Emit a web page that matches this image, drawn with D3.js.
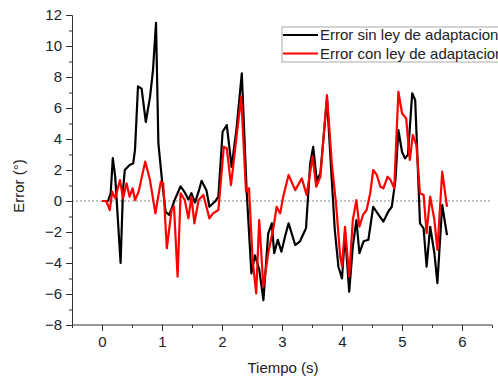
<!DOCTYPE html>
<html>
<head>
<meta charset="utf-8">
<script src="https://cdn.jsdelivr.net/npm/d3@7"></script>
<style>
  html, body { margin: 0; padding: 0; background: #fff; }
  svg { display: block; font-family: Arial, "Liberation Sans", sans-serif; }
</style>
</head>
<body>
<svg id="chart" width="498" height="377"></svg>
<script>
// Error without adaptation law (black)
const sinLeyT = [0, 0.1, 0.145, 0.18, 0.22, 0.31, 0.35, 0.38, 0.46, 0.52, 0.55, 0.60, 0.66, 0.73, 0.80, 0.85, 0.90, 0.94, 1.00, 1.06, 1.12, 1.17, 1.21, 1.31, 1.38, 1.44, 1.49, 1.55, 1.61, 1.66, 1.74, 1.79, 1.88, 1.94, 2.01, 2.08, 2.16, 2.24, 2.33, 2.41, 2.49, 2.55, 2.62, 2.69, 2.77, 2.83, 2.87, 2.93, 2.99, 3.05, 3.11, 3.22, 3.30, 3.40, 3.47, 3.52, 3.58, 3.64, 3.75, 3.83, 3.88, 3.94, 4.00, 4.05, 4.12, 4.18, 4.24, 4.29, 4.36, 4.44, 4.52, 4.61, 4.69, 4.77, 4.83, 4.89, 4.94, 5.00, 5.05, 5.10, 5.17, 5.22, 5.30, 5.36, 5.41, 5.47, 5.54, 5.59, 5.67, 5.75];
const sinLeyV = [0, 0, 0.5, 2.77, 1.57, -4.0, 0.7, 2.0, 2.32, 2.43, 3.3, 7.4, 7.25, 5.1, 6.7, 8.45, 11.5, 3.7, 1.35, -0.7, -0.9, -0.4, 0.06, 0.95, 0.55, 0.1, 0.5, -0.1, 0.6, 1.3, 0.7, -0.37, -0.05, 0.28, 4.47, 4.9, 2.2, 4.58, 8.24, 0.7, -4.67, -3.5, -4.4, -6.4, -2.1, -1.44, -3.37, -2.5, -3.27, -2.3, -1.44, -2.84, -2.6, -1.76, 2.43, 3.5, 1.3, 1.8, 6.6, 1.35, -1.87, -4.24, -5.0, -2.08, -5.85, -2.95, -1.23, -3.37, -2.6, -2.5, -0.37, -0.9, -1.33, -0.69, -0.37, 1.35, 4.58, 3.18, 2.75, 3.0, 6.95, 6.5, -1.44, -1.76, -4.24, -1.66, -3.37, -5.3, -0.26, -2.2];

// Error with adaptation law (red)
const conLeyT = [0, 0.07, 0.13, 0.17, 0.22, 0.30, 0.35, 0.41, 0.46, 0.51, 0.55, 0.61, 0.72, 0.80, 0.89, 0.98, 1.02, 1.08, 1.16, 1.20, 1.26, 1.31, 1.38, 1.44, 1.49, 1.54, 1.61, 1.69, 1.79, 1.85, 1.94, 2.03, 2.08, 2.15, 2.23, 2.32, 2.40, 2.45, 2.51, 2.57, 2.62, 2.69, 2.77, 2.86, 2.91, 2.97, 3.02, 3.11, 3.22, 3.33, 3.41, 3.51, 3.57, 3.64, 3.75, 3.83, 3.90, 3.97, 4.00, 4.05, 4.12, 4.18, 4.24, 4.29, 4.35, 4.41, 4.47, 4.52, 4.58, 4.64, 4.69, 4.76, 4.81, 4.87, 4.94, 5.00, 5.07, 5.13, 5.18, 5.24, 5.30, 5.36, 5.41, 5.47, 5.54, 5.59, 5.67, 5.75];
const conLeyV = [0, 0, -0.58, 0.6, 0.17, 1.35, 0.17, 1.14, 0.28, 0.82, 0.06, 0.6, 2.54, 1.35, -0.8, 1.25, 1.14, -3.05, -0.58, -0.37, -4.88, 0.5, 0.06, -1.12, 0.28, -1.44, 0.06, 0.39, -1.12, -0.8, -0.58, 3.5, 3.4, 1.03, 3.72, 6.73, 0.6, 0.82, -3.8, -5.96, -1.23, -5.53, -3.37, -1.66, -0.37, -0.8, 0.28, 1.68, 0.7, 1.46, 0.39, 2.86, 0.92, 1.57, 6.84, 2.43, -0.15, -3.6, -4.2, -1.66, -4.88, -1.23, 0.06, -1.66, -0.9, -0.58, 0.5, 2.0, 1.68, 0.92, 0.82, 1.57, 1.35, 0.82, 7.05, 5.66, 5.33, 2.65, 4.26, 3.61, 0.5, 0.39, -2.08, 0.28, -1.23, -3.16, 1.89, -0.37];

const xTicks = [0, 1, 2, 3, 4, 5, 6];
const yTicks = [-8, -6, -4, -2, 0, 2, 4, 6, 8, 10, 12];
const seriesNames = ["Error sin ley de adaptacion", "Error con ley de adaptacion"];
const seriesColors = ["#000000", "#ff0000"];

const svg = d3.select("#chart");
const plotLeft = 72, plotRight = 492, plotTop = 15, plotBottom = 325;
const fontSize = 15;

const x = d3.scaleLinear().domain([-0.5, 6.5]).range([plotLeft, plotRight]);
const y = d3.scaleLinear().domain([-8, 12]).range([plotBottom, plotTop]);

// zero reference line
svg.append("line")
  .attr("x1", plotLeft).attr("x2", plotRight)
  .attr("y1", y(0)).attr("y2", y(0))
  .attr("stroke", "#888").attr("stroke-width", 1)
  .attr("stroke-dasharray", "2,2");

// series lines
const line = d3.line().x(d => x(d[0])).y(d => y(d[1]));
const sinLey = sinLeyT.map((t, i) => [t, sinLeyV[i]]);
const conLey = conLeyT.map((t, i) => [t, conLeyV[i]]);

svg.append("path").datum(sinLey)
  .attr("d", line).attr("fill", "none")
  .attr("stroke", seriesColors[0]).attr("stroke-width", 2.2)
  .attr("stroke-linejoin", "round");
svg.append("path").datum(conLey)
  .attr("d", line).attr("fill", "none")
  .attr("stroke", seriesColors[1]).attr("stroke-width", 2.2)
  .attr("stroke-linejoin", "round");

// axes
const axisColor = "#333";
const xMinor = d3.range(-0.5, 6.51, 0.5);
const yMinor = d3.range(-8, 12.01, 1);

svg.append("g").attr("transform", `translate(0,${plotBottom})`)
  .call(d3.axisBottom(x).tickValues(xMinor).tickSize(3).tickFormat(""))
  .call(g => g.select(".domain").remove());
const xMajor = svg.append("g").attr("transform", `translate(0,${plotBottom})`)
  .call(d3.axisBottom(x).tickValues(xTicks).tickSize(6).tickPadding(5).tickFormat(d3.format("d")));
xMajor.select(".domain").attr("d", `M${plotLeft},0H${plotRight}`);

svg.append("g").attr("transform", `translate(${plotLeft},0)`)
  .call(d3.axisLeft(y).tickValues(yMinor).tickSize(3).tickFormat(""))
  .call(g => g.select(".domain").remove());
svg.append("g").attr("transform", `translate(${plotLeft},0)`)
  .call(d3.axisLeft(y).tickValues(yTicks).tickSize(6).tickPadding(4).tickFormat(d3.format("d")));

svg.selectAll(".tick line, .domain").attr("stroke", axisColor).attr("stroke-width", 1);
svg.selectAll(".tick text").attr("font-size", fontSize).attr("fill", "#222")
  .attr("font-family", "Arial, 'Liberation Sans', sans-serif");

// axis titles
svg.append("text")
  .attr("x", 283).attr("y", 373)
  .attr("text-anchor", "middle").attr("font-size", fontSize).attr("fill", "#222")
  .text("Tiempo (s)");
svg.append("text")
  .attr("transform", "translate(24,186) rotate(-90)")
  .attr("text-anchor", "middle").attr("font-size", fontSize).attr("fill", "#222")
  .text("Error (°)");

// legend
const lg = svg.append("g").attr("transform", "translate(282,27)");
lg.append("rect").attr("x", 0).attr("y", 0).attr("width", 240).attr("height", 35)
  .attr("fill", "#fff").attr("stroke", "#aaa").attr("stroke-width", 1);
seriesNames.forEach((name, i) => {
  const cy = 8 + i * 18.5;
  lg.append("line").attr("x1", 1).attr("x2", 36).attr("y1", cy).attr("y2", cy)
    .attr("stroke", seriesColors[i]).attr("stroke-width", 2);
  lg.append("text").attr("x", 38).attr("y", cy + 5)
    .attr("font-size", fontSize).attr("fill", "#222").text(name);
});
</script>
</body>
</html>
